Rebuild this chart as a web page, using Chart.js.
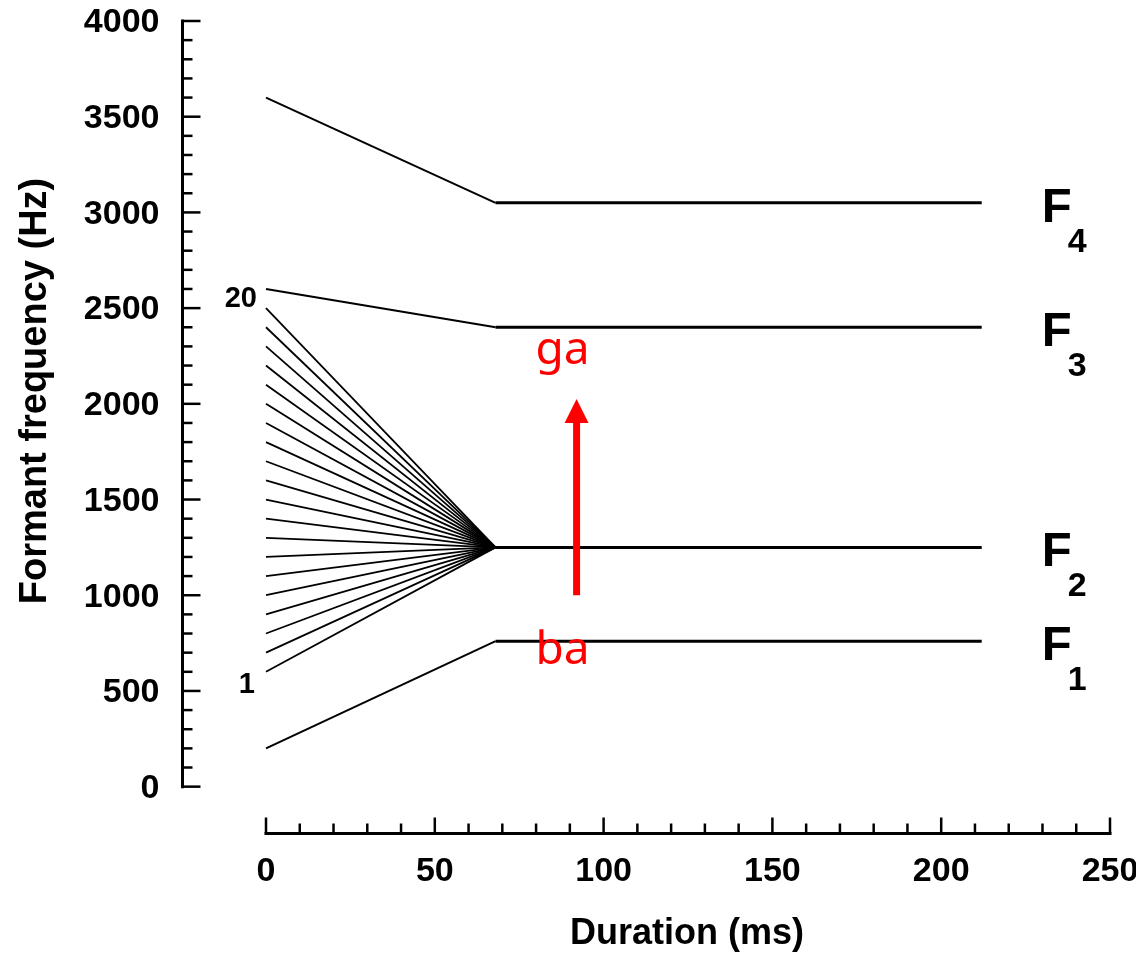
<!DOCTYPE html>
<html lang="en">
<head>
    <meta charset="UTF-8">
    <title>Formant transitions ba - ga</title>
    <script src="https://cdn.jsdelivr.net/npm/chart.js"></script>
    <style>
        body { margin: 0; background: #fff; }
        #wrap { width: 1136px; height: 955px; }
    </style>
</head>
<body>
    <div id="wrap"><canvas id="myChart" width="1136" height="955"></canvas></div>
    <script>
        // time points (ms): onset, end of transition, end of steady state
        const times = [0, 68, 212];

        // steady formants F1, F3, F4 (Hz) at each time point
        const f1 = [200, 760, 760];
        const f3 = [2600, 2400, 2400];
        const f4 = [3600, 3050, 3050];

        // F2 continuum: 20 onset frequencies, all gliding to the same target
        const f2Onsets = [600, 700, 800, 900, 1000, 1100, 1200, 1300, 1400, 1500,
                          1600, 1700, 1800, 1900, 2000, 2100, 2200, 2300, 2400, 2500];
        const f2Target = 1250;

        // axis ticks
        const yMajor = [0, 500, 1000, 1500, 2000, 2500, 3000, 3500, 4000];
        const yMinor = [100, 200, 300, 400, 600, 700, 800, 900, 1100, 1200, 1300, 1400,
                        1600, 1700, 1800, 1900, 2100, 2200, 2300, 2400, 2600, 2700, 2800, 2900,
                        3100, 3200, 3300, 3400, 3600, 3700, 3800, 3900];
        const xMajor = [0, 50, 100, 150, 200, 250];
        const xMinor = [10, 20, 30, 40, 60, 70, 80, 90, 110, 120, 130, 140,
                        160, 170, 180, 190, 210, 220, 230, 240];

        const formantLabels = ['1', '2', '3', '4'];
        const formantLevels = [f1[2], f2Target, f3[2], f4[2]];

        // red arrow from "ba" to "ga"
        const arrowAt = 92;
        const arrowFrom = 1000;
        const arrowTo = 2025;

        // where the detached axes sit, in data units
        const yAxisAt = -25;
        const xAxisAt = -240;

        function pts(ys, xs) {
            return ys.map((v, i) => ({ x: xs[i], y: v }));
        }

        const datasets = [];
        const base = { showLine: true, pointRadius: 0, borderColor: '#000', fill: false, clip: false };

        datasets.push({ ...base, data: pts([f4[0], f4[1]], times), borderWidth: 2 });
        datasets.push({ ...base, data: pts([f4[1], f4[2]], times.slice(1)), borderWidth: 3 });
        datasets.push({ ...base, data: pts([f3[0], f3[1]], times), borderWidth: 2 });
        datasets.push({ ...base, data: pts([f3[1], f3[2]], times.slice(1)), borderWidth: 3 });
        f2Onsets.forEach(v => {
            datasets.push({ ...base, data: pts([v, f2Target], times), borderWidth: 1.8 });
        });
        datasets.push({ ...base, data: pts([f2Target, f2Target], times.slice(1)), borderWidth: 3 });
        datasets.push({ ...base, data: pts([f1[0], f1[1]], times), borderWidth: 2 });
        datasets.push({ ...base, data: pts([f1[1], f1[2]], times.slice(1)), borderWidth: 3 });

        const boldFont = '"Liberation Sans", Arial, sans-serif';

        const frameAxes = {
            id: 'frameAxes',
            afterDatasetsDraw(chart) {
                const { ctx, scales: { x, y } } = chart;
                ctx.save();
                ctx.strokeStyle = '#000';
                ctx.fillStyle = '#000';
                ctx.lineCap = 'butt';

                // y axis
                const ax = Math.round(x.getPixelForValue(yAxisAt)) + 0.5;
                ctx.lineWidth = 3;
                ctx.beginPath();
                ctx.moveTo(ax, y.getPixelForValue(0) + 1.5);
                ctx.lineTo(ax, y.getPixelForValue(4000) - 1.5);
                ctx.stroke();
                ctx.lineWidth = 2.5;
                yMajor.forEach(v => {
                    const py = y.getPixelForValue(v);
                    ctx.beginPath(); ctx.moveTo(ax, py); ctx.lineTo(ax + 18, py); ctx.stroke();
                });
                yMinor.forEach(v => {
                    const py = y.getPixelForValue(v);
                    ctx.beginPath(); ctx.moveTo(ax, py); ctx.lineTo(ax + 10, py); ctx.stroke();
                });
                ctx.font = 'bold 34px ' + boldFont;
                ctx.textAlign = 'right';
                ctx.textBaseline = 'middle';
                yMajor.forEach(v => {
                    ctx.fillText(String(v), ax - 23, y.getPixelForValue(v) + 2);
                });

                // x axis
                const ay = Math.round(y.getPixelForValue(xAxisAt)) + 0.5;
                ctx.lineWidth = 3;
                ctx.beginPath();
                ctx.moveTo(x.getPixelForValue(0) - 1.5, ay);
                ctx.lineTo(x.getPixelForValue(250) + 1.5, ay);
                ctx.stroke();
                ctx.lineWidth = 2.5;
                xMajor.forEach(v => {
                    const px = x.getPixelForValue(v);
                    ctx.beginPath(); ctx.moveTo(px, ay); ctx.lineTo(px, ay - 16); ctx.stroke();
                });
                xMinor.forEach(v => {
                    const px = x.getPixelForValue(v);
                    ctx.beginPath(); ctx.moveTo(px, ay); ctx.lineTo(px, ay - 10); ctx.stroke();
                });
                ctx.textAlign = 'center';
                xMajor.forEach(v => {
                    ctx.fillText(String(v), x.getPixelForValue(v), ay + 38);
                });

                // axis titles
                ctx.font = 'bold 36px ' + boldFont;
                ctx.fillText('Duration (ms)', (x.getPixelForValue(0) + x.getPixelForValue(250)) / 2 - 1, 934);
                ctx.save();
                ctx.translate(36, 391);
                ctx.rotate(-Math.PI / 2);
                ctx.font = 'bold 38px ' + boldFont;
                ctx.fillText('Formant frequency (Hz)', 0, 0);
                ctx.restore();

                // continuum step numbers
                ctx.font = 'bold 29px ' + boldFont;
                ctx.textAlign = 'right';
                ctx.fillText('20', x.getPixelForValue(0) - 9, y.getPixelForValue(f2Onsets[19]) - 9);
                ctx.fillText('1', x.getPixelForValue(0) - 11, y.getPixelForValue(f2Onsets[0]) + 13);

                // formant names F1..F4 with subscripts
                const fx = x.getPixelForValue(times[2]) + 60;
                formantLabels.forEach((n, i) => {
                    const py = y.getPixelForValue(formantLevels[i]);
                    ctx.textAlign = 'left';
                    ctx.textBaseline = 'alphabetic';
                    ctx.font = 'bold 49px ' + boldFont;
                    ctx.fillText('F', fx, py + 19);
                    ctx.font = 'bold 34px ' + boldFont;
                    ctx.fillText(n, fx + 26, py + 49);
                });

                // red arrow and syllable labels
                const rx = x.getPixelForValue(arrowAt);
                const yFrom = y.getPixelForValue(arrowFrom);
                const yTip = y.getPixelForValue(arrowTo);
                ctx.fillStyle = '#ff0000';
                ctx.strokeStyle = '#ff0000';
                ctx.lineWidth = 7;
                ctx.beginPath();
                ctx.moveTo(rx, yFrom);
                ctx.lineTo(rx, yTip + 22);
                ctx.stroke();
                ctx.beginPath();
                ctx.moveTo(rx, yTip);
                ctx.lineTo(rx - 12, yTip + 24);
                ctx.lineTo(rx + 12, yTip + 24);
                ctx.closePath();
                ctx.fill();

                ctx.font = '46px "Noto Sans", "Open Sans", sans-serif';
                ctx.textAlign = 'center';
                ctx.textBaseline = 'alphabetic';
                ctx.fillText('ga', rx - 14, y.getPixelForValue(f3[2]) + 37);
                ctx.fillText('ba', rx - 14, y.getPixelForValue(f1[2]) + 23);

                ctx.restore();
            }
        };

        const chart = new Chart(document.getElementById('myChart').getContext('2d'), {
            type: 'scatter',
            data: { datasets: datasets },
            options: {
                responsive: false,
                animation: false,
                events: [],
                layout: { padding: { left: 181.6, right: 19.25, top: 21, bottom: 120.5 } },
                scales: {
                    x: { type: 'linear', min: -25, max: 252, display: false },
                    y: { type: 'linear', min: -250, max: 4000, display: false }
                },
                plugins: {
                    legend: { display: false },
                    tooltip: { enabled: false }
                }
            },
            plugins: [frameAxes]
        });
    </script>
</body>
</html>
